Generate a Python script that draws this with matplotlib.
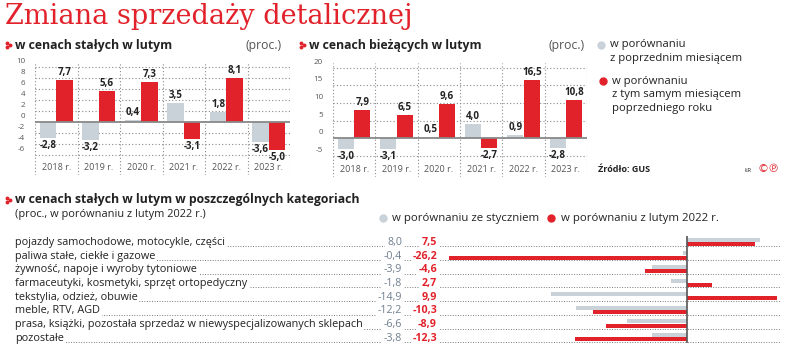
"""
Zmiana sprzedazy detalicznej - infografika (GUS)
"""
import matplotlib
matplotlib.use('Agg')
import matplotlib.pyplot as plt
import matplotlib.transforms as mtransforms
from matplotlib.lines import Line2D

plt.rcParams['font.family'] = ['Open Sans', 'DejaVu Sans']

RED = '#e2222b'
GREY = '#c9d1d9'
TXT = '#222222'
TICK = '#555555'
VALGREY = '#6f7f8e'

# --- dane ---
years = ['2018 r.', '2019 r.', '2020 r.', '2021 r.', '2022 r.', '2023 r.']
stale_mm = [-2.8, -3.2, 0.4, 3.5, 1.8, -3.6]
stale_rr = [7.7, 5.6, 7.3, -3.1, 8.1, -5.0]
biezace_mm = [-3.0, -3.1, 0.5, 4.0, 0.9, -2.8]
biezace_rr = [7.9, 6.5, 9.6, -2.7, 16.5, 10.8]

categories = [
    'pojazdy samochodowe, motocykle, części',
    'paliwa stałe, ciekłe i gazowe',
    'żywność, napoje i wyroby tytoniowe',
    'farmaceutyki, kosmetyki, sprzęt ortopedyczny',
    'tekstylia, odzież, obuwie',
    'meble, RTV, AGD',
    'prasa, książki, pozostała sprzedaż w niewyspecjalizowanych sklepach',
    'pozostałe',
]
kat_styczen = [8.0, -0.4, -3.9, -1.8, -14.9, -12.2, -6.6, -3.8]
kat_luty22 = [7.5, -26.2, -4.6, 2.7, 9.9, -10.3, -8.9, -12.3]

W, H = 788, 350
fig = plt.figure(figsize=(W / 100, H / 100), dpi=100)
fig.patch.set_facecolor('white')

# tlo w pikselach (lewy gorny rog = 0,0)
bg = fig.add_axes([0, 0, 1, 1], zorder=0)
bg.set_xlim(0, W)
bg.set_ylim(H, 0)
bg.axis('off')


def axpx(l, t, r, b, z=2):
    ax = fig.add_axes([l / W, 1 - b / H, (r - l) / W, (b - t) / H], zorder=z)
    ax.set_facecolor('none')
    return ax


def fmt(v):
    return f'{v:.1f}'.replace('.', ',')


def marker(x, y):
    bg.add_line(Line2D([x, x, x + 3], [y - 2.2, y + 2.2, y], ls='', marker='o',
                       ms=1.8, color=RED, mec=RED))


# tytul
bg.text(5, 17, 'Zmiana sprzedaży detalicznej', fontsize=19.5, color=RED,
        family=['DejaVu Serif'], va='center', ha='left')

# podtytuly
marker(7, 45)
bg.text(15, 45, 'w cenach stałych w lutym', fontsize=8.8, fontweight='bold',
        color=TXT, va='center')
bg.text(246, 45, '(proc.)', fontsize=8.8, color=TICK, va='center')
marker(301, 45)
bg.text(309, 45, 'w cenach bieżących w lutym', fontsize=8.8, fontweight='bold',
        color=TXT, va='center')
bg.text(549, 45, '(proc.)', fontsize=8.8, color=TICK, va='center')


def year_chart(ax, mm, rr, ylim, ticks, lab_off):
    x = list(range(len(years)))
    ax.set_xlim(-0.5, len(years) - 0.5)
    ax.set_ylim(*ylim)
    for t in ticks:
        if t == 0:
            continue
        ax.axhline(t, color='#8a8a8a', lw=0.8, ls=(0, (1, 2)), zorder=1)
    for k in range(len(years) + 1):
        ax.axvline(k - 0.5, color='#8a8a8a', lw=0.8, ls=(0, (1, 2)), zorder=1)
    ax.bar([i - 0.195 for i in x], mm, width=0.38, color=GREY, zorder=2)
    ax.bar([i + 0.195 for i in x], rr, width=0.38, color=RED, zorder=2)
    ax.axhline(0, color='#888888', lw=1.3, zorder=3)
    up = mtransforms.offset_copy(ax.transData, fig=fig, y=2, units='dots')
    dn = mtransforms.offset_copy(ax.transData, fig=fig, y=-2, units='dots')
    for vals, dx in ((mm, -0.195), (rr, 0.195)):
        for i, v in enumerate(vals):
            if v >= 0:
                ax.text(i + dx, v, fmt(v), transform=up, ha='center', va='bottom',
                        fontsize=7, fontweight='bold', color=TXT)
            else:
                ax.text(i + dx, v, fmt(v), transform=dn, ha='center', va='top',
                        fontsize=7, fontweight='bold', color=TXT)
    ytr = mtransforms.offset_copy(
        mtransforms.blended_transform_factory(ax.transAxes, ax.transData),
        fig=fig, x=-10, y=lab_off, units='dots')
    for t in ticks:
        ax.text(0, t, str(t), transform=ytr, ha='right', va='center',
                fontsize=5.8, color=TICK)
    ctr = mtransforms.blended_transform_factory(ax.transData, ax.transAxes)
    for i, yr in enumerate(years):
        ax.text(i, 0.065, yr, transform=ctr, ha='center', va='center',
                fontsize=6.5, color=TICK)
    ax.axis('off')


ax1 = axpx(35, 63, 290, 175)
year_chart(ax1, stale_mm, stale_rr, (-9.58, 10.78), list(range(-6, 11, 2)), 5.5)
ax2 = axpx(333, 63, 587, 177)
year_chart(ax2, biezace_mm, biezace_rr, (-10.9, 21.27), list(range(-5, 21, 5)), 5.5)

# legenda gornych wykresow
bg.add_line(Line2D([601], [45], marker='o', ms=5, color=GREY, ls=''))
bg.text(610, 51.5, 'w porównaniu\nz poprzednim miesiącem', fontsize=8.1,
        color=TXT, va='center', linespacing=1.25)
bg.add_line(Line2D([603], [81], marker='o', ms=5, color=RED, ls=''))
bg.text(612, 95, 'w porównaniu\nz tym samym miesiącem\npoprzedniego roku',
        fontsize=8.1, color=TXT, va='center', linespacing=1.3)
bg.text(598, 170, 'Źródło: GUS', fontsize=6.5, fontweight='bold', color=TXT,
        va='center')
bg.text(745, 170, 'ŁR', fontsize=4.5, color=TXT, va='center')
bg.text(758, 169, '©℗', fontsize=8, color=RED, va='center',
        family=['DejaVu Sans'])

# dolna czesc
marker(7, 200)
bg.text(15, 200, 'w cenach stałych w lutym w poszczególnych kategoriach',
        fontsize=8.8, fontweight='bold', color=TXT, va='center')
bg.text(15, 214, '(proc., w porównaniu z lutym 2022 r.)', fontsize=7.9,
        color=TXT, va='center')
bg.add_line(Line2D([383], [218], marker='o', ms=5, color=GREY, ls=''))
bg.text(392, 218, 'w porównaniu ze styczniem', fontsize=8.2, color=TXT,
        va='center')
bg.add_line(Line2D([551], [218], marker='o', ms=5, color=RED, ls=''))
bg.text(561, 218, 'w porównaniu z lutym 2022 r.', fontsize=8.2, color=TXT,
        va='center')

row0, step = 242.5, 13.7
box = dict(facecolor='white', edgecolor='none', pad=1.2)
for i, name in enumerate(categories):
    yc = row0 + step * i
    bg.plot([15, 780], [yc + 3.8, yc + 3.8], color='#7a7a7a', lw=0.7,
            ls=(0, (1, 1.6)), zorder=1)
    bg.text(15, yc, name, fontsize=7.85, color=TXT, va='center', bbox=box, zorder=3)
    bg.text(402, yc, fmt(kat_styczen[i]), fontsize=7.7, color=VALGREY,
            va='center', ha='right', bbox=box, zorder=3)
    bg.text(437, yc, fmt(kat_luty22[i]), fontsize=7.7, color=RED,
            fontweight='bold', va='center', ha='right', bbox=box, zorder=3)

ax3 = axpx(440, 236, 782, 343, z=3)
ax3.set_xlim(-(687 - 440) / 9.1, (782 - 687) / 9.1)
ax3.set_ylim(7.43, -0.45)
rows = list(range(len(categories)))
ax3.barh([r - 0.17 for r in rows], kat_styczen, height=0.3, color=GREY)
ax3.barh([r + 0.15 for r in rows], kat_luty22, height=0.3, color=RED)
ax3.axvline(0, color='#555555', lw=1.2)
ax3.axis('off')

fig.savefig('out.png', dpi=100, facecolor='white')
